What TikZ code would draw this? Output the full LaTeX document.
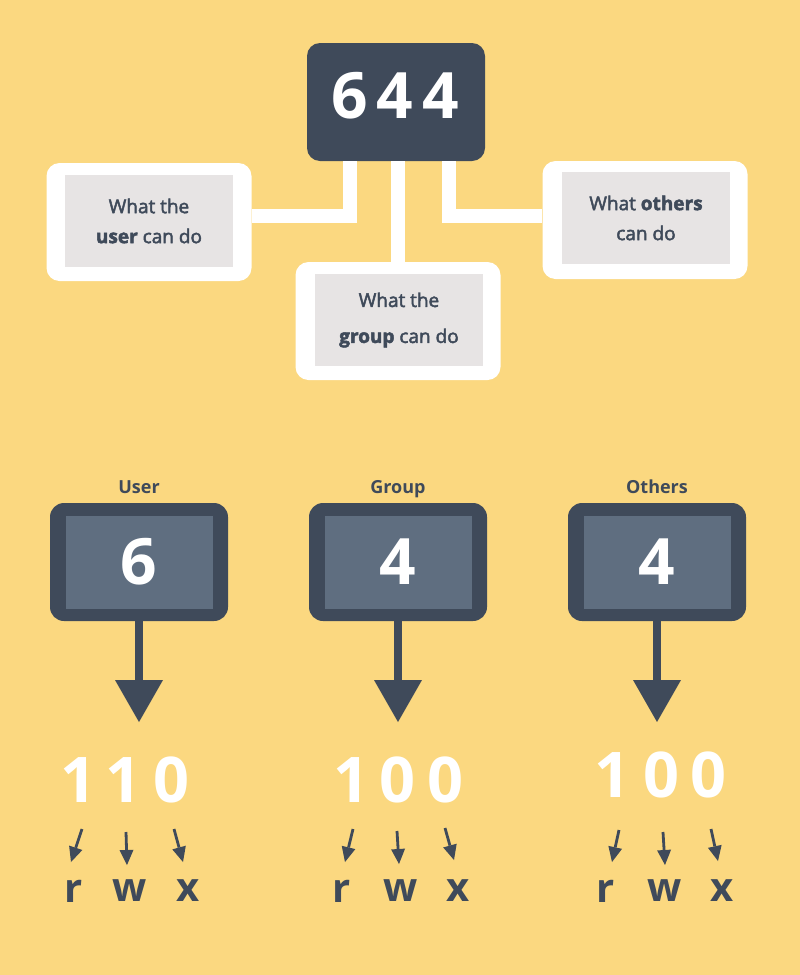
\documentclass[tikz,border=0pt]{standalone}
\usepackage{fontspec}
\setmainfont{Open Sans}
\newfontfamily\semibold[FakeBold=2.5]{Open Sans}
\usetikzlibrary{arrows.meta}
\definecolor{bgyellow}{HTML}{FBD880}
\definecolor{slate}{HTML}{3F4A5A}
\definecolor{slatelight}{HTML}{5F6E80}
\definecolor{paper}{HTML}{E7E4E4}

\begin{document}
\begin{tikzpicture}[x=1pt,y=-1pt,
  whiteframe/.style={fill=white,rounded corners=13pt,minimum width=205pt,minimum height=118pt,inner sep=0pt},
  graycard/.style={fill=paper,minimum width=168pt,minimum height=92pt,inner sep=0pt,align=center,text=slate,font=\fontsize{19}{30}\selectfont\semibold},
  conn/.style={draw=white,line width=14pt},
  tilebox/.style={fill=slate,rounded corners=14pt,minimum width=178pt,minimum height=118pt,inner sep=0pt},
  tileface/.style={fill=slatelight,minimum width=147pt,minimum height=93pt,inner sep=0pt,text=white,font=\fontsize{64}{64}\selectfont\bfseries},
  bitnum/.style={text=white,font=\fontsize{63}{63}\selectfont\bfseries,inner sep=0pt},
  permletter/.style={text=slate,font=\fontsize{40}{40}\selectfont\bfseries,inner sep=0pt},
  grouplabel/.style={text=slate,font=\fontsize{18}{18}\selectfont\bfseries,inner sep=0pt,anchor=base},
  bigarrow/.style={draw=slate,line width=8pt,-{Triangle[length=42pt,width=48pt,line width=0pt]}},
  smallarrow/.style={draw=slate,line width=2.8pt,-{Triangle[length=15pt,width=14pt,line width=0pt]}}]

\fill[bgyellow] (0,0) rectangle (800,975);
\useasboundingbox (0,0) rectangle (800,975);

% mode 644 and what it means
\node[fill=slate,rounded corners=13pt,minimum width=178pt,minimum height=118pt] (mode) at (396,102) {};
\node[text=white,font=\fontsize{64}{64}\selectfont\bfseries,inner sep=0pt] (modenum) at (395,96) {6\hspace{9pt}4\hspace{9pt}4};

\node[whiteframe] (userframe) at (149,222) {};
\node[graycard] (usercard) at (149,221) {What the\\\textbf{user} can do};
\node[whiteframe] (groupframe) at (398,321) {};
\node[graycard,font=\fontsize{19}{36}\selectfont\semibold] (groupcard) at (399,320) {What the\\\textbf{group} can do};
\node[whiteframe] (othersframe) at (645,220) {};
\node[graycard] (otherscard) at (646,218) {What \textbf{others}\\can do};

\draw[conn] ([xshift=-46pt]mode.south) |- ([yshift=6pt]userframe.east);
\draw[conn] (groupframe.north |- mode.south) -- (groupframe.north);
\draw[conn] ([xshift=53pt]mode.south) |- ([yshift=4pt]othersframe.west);

% one tile per digit
\foreach \name/\x/\lbl/\d in {user/139/User/6,group/398/Group/4,others/657/Others/4}{
  \node[grouplabel] (\name-label) at (\x,493) {\lbl};
  \node[tilebox] (\name-tile) at (\x,562) {};
  \node[tileface] (\name-face) at (\x,562) {\d};
  \coordinate (\name-tip) at (\x,722);
  \draw[bigarrow] (\name-tile.south) -- (\name-tip);
}

% binary digits
\foreach \x/\y/\b [count=\i] in {78/780/1,123/780/1,171/780/0,351/780/1,397/780/0,445/780/0,612/775/1,661/775/0,708/775/0}
  \node[bitnum] (bit\i) at (\x,\y) {\b};

% r w x
\foreach \x/\l [count=\i] in {74/r,130/w,188/x,342/r,401/w,458/x,606/r,665/w,722/x}
  \node[permletter] (perm\i) at (\x,891) {\l};

\foreach \xa/\ya/\xb/\yb [count=\i] in {82/829/71/862,126/832/127/865,174/829/183/862,353/829/345/862,397/831/399/864,445/828/454/860,619/830/612/862,663/832/665/865,711/829/718/861}{
  \coordinate (from\i) at (\xa,\ya);
  \coordinate (to\i) at (\xb,\yb);
  \draw[smallarrow] (from\i) -- (to\i);
}
\end{tikzpicture}
\end{document}
